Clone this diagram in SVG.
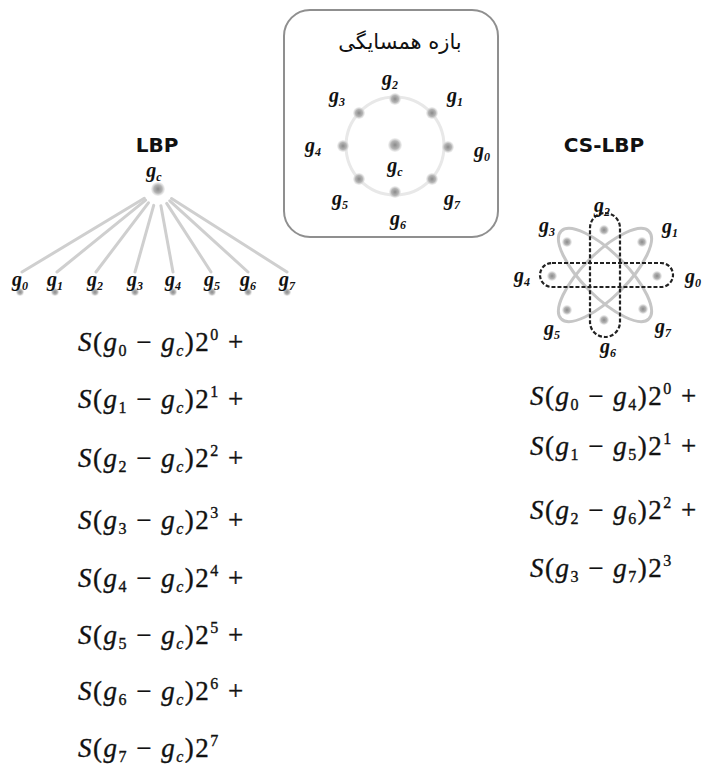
<svg xmlns="http://www.w3.org/2000/svg" width="704" height="778" viewBox="0 0 704 778">
<defs>
<radialGradient id="dot">
<stop offset="0" stop-color="#8a8a8a"/>
<stop offset="0.6" stop-color="#b5b5b5"/>
<stop offset="1" stop-color="#e0e0e0" stop-opacity="0.4"/>
</radialGradient>
<style>
.lb{font-family:"Liberation Serif",serif;font-size:20px;font-weight:bold;font-style:italic;fill:#111;text-anchor:middle}
.lb .s{font-size:12px}
.ttl{font-family:"DejaVu Sans",sans-serif;font-size:20px;font-weight:bold;fill:#111;text-anchor:middle}
.fa{font-family:"DejaVu Sans","Noto Sans",sans-serif;font-size:21px;fill:#111;text-anchor:middle}
.fm{font-family:"Liberation Serif",serif;font-size:27px;fill:#111;stroke:#111;stroke-width:0.35;letter-spacing:1.5px}
.fm .i{font-style:italic}
.fm .s{font-size:16px}
.d{fill:url(#dot)}
.fan{stroke:#cfcfcf;stroke-width:3;fill:none;stroke-linecap:round}
.diag{stroke:#c6c6c6;stroke-width:3;fill:none}
.dash{stroke:#222;stroke-width:2.2;fill:none;stroke-dasharray:4 2}
</style>
</defs>
<rect width="704" height="778" fill="#fff"/>

<g id="neighborhood">
<rect x="284" y="10" width="214" height="227" rx="26" fill="#fff" stroke="#8f8f8f" stroke-width="2"/>
<text x="400" y="49" class="fa">بازه همسایگی</text>
<circle cx="395" cy="146" r="49" fill="none" stroke="#e8e8e8" stroke-width="3"/>
<circle class="d" cx="395" cy="99" r="6"/>
<circle class="d" cx="432" cy="113" r="6"/>
<circle class="d" cx="448" cy="147" r="6"/>
<circle class="d" cx="432" cy="179" r="6"/>
<circle class="d" cx="395" cy="192" r="6"/>
<circle class="d" cx="359" cy="179" r="6"/>
<circle class="d" cx="343" cy="146" r="6"/>
<circle class="d" cx="359" cy="113" r="6"/>
<circle class="d" cx="395" cy="145" r="7"/>
<text class="lb" x="390" y="85">g<tspan class="s" dy="4">2</tspan></text>
<text class="lb" x="337" y="102">g<tspan class="s" dy="4">3</tspan></text>
<text class="lb" x="455" y="102">g<tspan class="s" dy="4">1</tspan></text>
<text class="lb" x="313" y="152">g<tspan class="s" dy="4">4</tspan></text>
<text class="lb" x="482" y="157">g<tspan class="s" dy="4">0</tspan></text>
<text class="lb" x="395" y="172">g<tspan class="s" dy="4">c</tspan></text>
<text class="lb" x="340" y="205">g<tspan class="s" dy="4">5</tspan></text>
<text class="lb" x="452" y="205">g<tspan class="s" dy="4">7</tspan></text>
<text class="lb" x="398" y="225">g<tspan class="s" dy="4">6</tspan></text>
</g>

<g id="connectors">
<line class="fan" x1="144.3" y1="198.3" x2="22" y2="272"/>
<line class="fan" x1="145.6" y1="200.1" x2="57" y2="272"/>
<line class="fan" x1="148.4" y1="202.8" x2="96" y2="272"/>
<line class="fan" x1="153.7" y1="205.4" x2="135" y2="272"/>
<line class="fan" x1="160.9" y1="205.7" x2="173" y2="272"/>
<line class="fan" x1="166.7" y1="203.4" x2="211" y2="272"/>
<line class="fan" x1="169.8" y1="200.8" x2="248" y2="272"/>
<line class="fan" x1="171.5" y1="198.6" x2="287" y2="272"/>
</g>

<g id="lbp-center">
<text class="ttl" x="157" y="152">LBP</text>
<text class="lb" x="154" y="177">g<tspan class="s" dy="4">c</tspan></text>
<circle class="d" cx="158" cy="189" r="7"/>
</g>
<g id="lbp-leaves">
<g id="leaf0"><circle class="d" cx="20" cy="292" r="4"/><text class="lb" x="20" y="286">g<tspan class="s" dy="4">0</tspan></text></g>
<g id="leaf1"><circle class="d" cx="55" cy="292" r="4"/><text class="lb" x="55" y="286">g<tspan class="s" dy="4">1</tspan></text></g>
<g id="leaf2"><circle class="d" cx="95" cy="292" r="4"/><text class="lb" x="95" y="286">g<tspan class="s" dy="4">2</tspan></text></g>
<g id="leaf3"><circle class="d" cx="135" cy="292" r="4"/><text class="lb" x="135" y="286">g<tspan class="s" dy="4">3</tspan></text></g>
<g id="leaf4"><circle class="d" cx="173" cy="292" r="4"/><text class="lb" x="173" y="286">g<tspan class="s" dy="4">4</tspan></text></g>
<g id="leaf5"><circle class="d" cx="212" cy="292" r="4"/><text class="lb" x="212" y="286">g<tspan class="s" dy="4">5</tspan></text></g>
<g id="leaf6"><circle class="d" cx="248" cy="292" r="4"/><text class="lb" x="248" y="286">g<tspan class="s" dy="4">6</tspan></text></g>
<g id="leaf7"><circle class="d" cx="287" cy="292" r="4"/><text class="lb" x="287" y="286">g<tspan class="s" dy="4">7</tspan></text></g>
</g>

<g id="cs-lbp">
<text class="ttl" x="604" y="152">CS-LBP</text>
<ellipse class="diag" cx="605" cy="275" rx="62" ry="22" transform="rotate(-45 605 275)"/>
<ellipse class="diag" cx="605" cy="275" rx="62" ry="22" transform="rotate(45 605 275)"/>
<rect class="dash" x="590" y="213" width="30" height="124" rx="15"/>
<rect class="dash" x="540" y="263" width="133" height="24" rx="12"/>
<circle class="d" cx="604" cy="230" r="5"/>
<circle class="d" cx="604" cy="320" r="5"/>
<circle class="d" cx="552" cy="276" r="5"/>
<circle class="d" cx="657" cy="276" r="5"/>
<circle class="d" cx="567" cy="242" r="5"/>
<circle class="d" cx="642" cy="242" r="5"/>
<circle class="d" cx="567" cy="310" r="5"/>
<circle class="d" cx="643" cy="309" r="5"/>
<text class="lb" x="602" y="212">g<tspan class="s" dy="4">2</tspan></text>
<text class="lb" x="547" y="232">g<tspan class="s" dy="4">3</tspan></text>
<text class="lb" x="670" y="233">g<tspan class="s" dy="4">1</tspan></text>
<text class="lb" x="522" y="282">g<tspan class="s" dy="4">4</tspan></text>
<text class="lb" x="693" y="283">g<tspan class="s" dy="4">0</tspan></text>
<text class="lb" x="552" y="335">g<tspan class="s" dy="4">5</tspan></text>
<text class="lb" x="663" y="333">g<tspan class="s" dy="4">7</tspan></text>
<text class="lb" x="608" y="353">g<tspan class="s" dy="4">6</tspan></text>
</g>

<g id="lbp-formula">
<text class="fm" x="78" y="351"><tspan class="i">S</tspan>(<tspan class="i">g</tspan><tspan class="s" dy="5">0</tspan><tspan dy="-5"> − </tspan><tspan class="i">g</tspan><tspan class="s i" dy="5">c</tspan><tspan dy="-5">)2</tspan><tspan class="s" dy="-11">0</tspan><tspan dy="11"> +</tspan></text>
<text class="fm" x="78" y="408"><tspan class="i">S</tspan>(<tspan class="i">g</tspan><tspan class="s" dy="5">1</tspan><tspan dy="-5"> − </tspan><tspan class="i">g</tspan><tspan class="s i" dy="5">c</tspan><tspan dy="-5">)2</tspan><tspan class="s" dy="-11">1</tspan><tspan dy="11"> +</tspan></text>
<text class="fm" x="78" y="467"><tspan class="i">S</tspan>(<tspan class="i">g</tspan><tspan class="s" dy="5">2</tspan><tspan dy="-5"> − </tspan><tspan class="i">g</tspan><tspan class="s i" dy="5">c</tspan><tspan dy="-5">)2</tspan><tspan class="s" dy="-11">2</tspan><tspan dy="11"> +</tspan></text>
<text class="fm" x="78" y="529"><tspan class="i">S</tspan>(<tspan class="i">g</tspan><tspan class="s" dy="5">3</tspan><tspan dy="-5"> − </tspan><tspan class="i">g</tspan><tspan class="s i" dy="5">c</tspan><tspan dy="-5">)2</tspan><tspan class="s" dy="-11">3</tspan><tspan dy="11"> +</tspan></text>
<text class="fm" x="78" y="587"><tspan class="i">S</tspan>(<tspan class="i">g</tspan><tspan class="s" dy="5">4</tspan><tspan dy="-5"> − </tspan><tspan class="i">g</tspan><tspan class="s i" dy="5">c</tspan><tspan dy="-5">)2</tspan><tspan class="s" dy="-11">4</tspan><tspan dy="11"> +</tspan></text>
<text class="fm" x="78" y="644"><tspan class="i">S</tspan>(<tspan class="i">g</tspan><tspan class="s" dy="5">5</tspan><tspan dy="-5"> − </tspan><tspan class="i">g</tspan><tspan class="s i" dy="5">c</tspan><tspan dy="-5">)2</tspan><tspan class="s" dy="-11">5</tspan><tspan dy="11"> +</tspan></text>
<text class="fm" x="78" y="700"><tspan class="i">S</tspan>(<tspan class="i">g</tspan><tspan class="s" dy="5">6</tspan><tspan dy="-5"> − </tspan><tspan class="i">g</tspan><tspan class="s i" dy="5">c</tspan><tspan dy="-5">)2</tspan><tspan class="s" dy="-11">6</tspan><tspan dy="11"> +</tspan></text>
<text class="fm" x="78" y="757"><tspan class="i">S</tspan>(<tspan class="i">g</tspan><tspan class="s" dy="5">7</tspan><tspan dy="-5"> − </tspan><tspan class="i">g</tspan><tspan class="s i" dy="5">c</tspan><tspan dy="-5">)2</tspan><tspan class="s" dy="-11">7</tspan></text>
</g>

<g id="cs-lbp-formula">
<text class="fm" x="530" y="405"><tspan class="i">S</tspan>(<tspan class="i">g</tspan><tspan class="s" dy="5">0</tspan><tspan dy="-5"> − </tspan><tspan class="i">g</tspan><tspan class="s" dy="5">4</tspan><tspan dy="-5">)2</tspan><tspan class="s" dy="-11">0</tspan><tspan dy="11"> +</tspan></text>
<text class="fm" x="530" y="455"><tspan class="i">S</tspan>(<tspan class="i">g</tspan><tspan class="s" dy="5">1</tspan><tspan dy="-5"> − </tspan><tspan class="i">g</tspan><tspan class="s" dy="5">5</tspan><tspan dy="-5">)2</tspan><tspan class="s" dy="-11">1</tspan><tspan dy="11"> +</tspan></text>
<text class="fm" x="530" y="519"><tspan class="i">S</tspan>(<tspan class="i">g</tspan><tspan class="s" dy="5">2</tspan><tspan dy="-5"> − </tspan><tspan class="i">g</tspan><tspan class="s" dy="5">6</tspan><tspan dy="-5">)2</tspan><tspan class="s" dy="-11">2</tspan><tspan dy="11"> +</tspan></text>
<text class="fm" x="530" y="577"><tspan class="i">S</tspan>(<tspan class="i">g</tspan><tspan class="s" dy="5">3</tspan><tspan dy="-5"> − </tspan><tspan class="i">g</tspan><tspan class="s" dy="5">7</tspan><tspan dy="-5">)2</tspan><tspan class="s" dy="-11">3</tspan></text>
</g>
</svg>
